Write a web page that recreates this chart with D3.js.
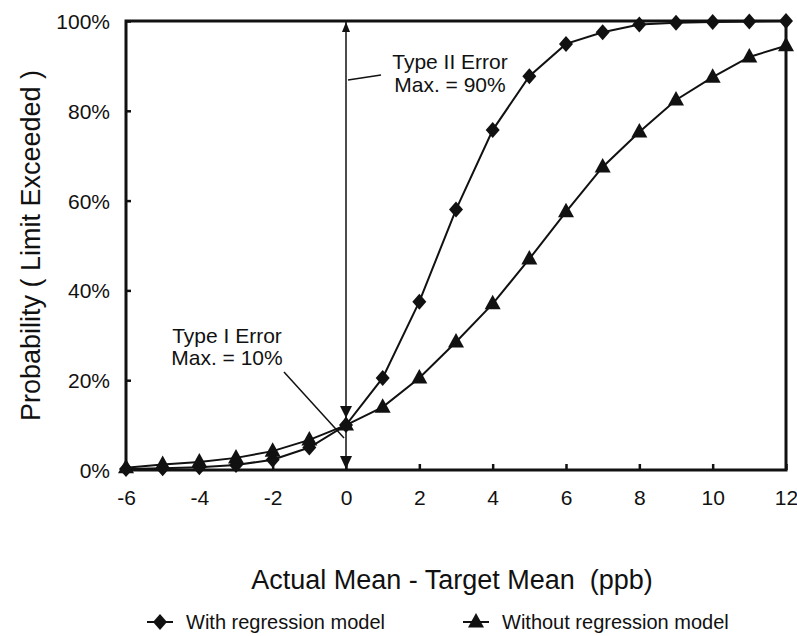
<!DOCTYPE html>
<html>
<head>
<meta charset="utf-8">
<script src="https://cdnjs.cloudflare.com/ajax/libs/d3/7.8.5/d3.min.js"></script>
<style>
  body { margin: 0; background: #fff; }
  text { font-family: "Liberation Sans", Arial, Helvetica, sans-serif; fill: #111; }
</style>
</head>
<body>
<div id="chart"></div>
<script>
// data
var xValues = [-6, -5, -4, -3, -2, -1, 0, 1, 2, 3, 4, 5, 6, 7, 8, 9, 10, 11, 12];
var withRegression = [0.2, 0.4, 0.6, 1.1, 2.3, 5, 10, 20.5, 37.5, 58, 75.7, 87.7, 94.9, 97.5, 99.2, 99.6, 99.8, 99.9, 100];
var withoutRegression = [0.5, 1.2, 1.8, 2.7, 4.2, 6.7, 10, 14, 20.5, 28.5, 37, 47, 57.5, 67.5, 75.3, 82.4, 87.5, 92, 94.5];
var xTicks = [-6, -4, -2, 0, 2, 4, 6, 8, 10, 12];
var yTicks = [0, 20, 40, 60, 80, 100];
var seriesNames = ["With regression model", "Without regression model"];

// svg container
var svgWidth = 797;
var svgHeight = 636;

// plot frame
var margin = { top: 21, right: 11, bottom: 166, left: 126 };
var width = svgWidth - margin.left - margin.right;
var height = svgHeight - margin.top - margin.bottom;

var svg = d3.select("#chart").append("svg")
  .attr("width", svgWidth)
  .attr("height", svgHeight);

var chartGroup = svg.append("g")
  .attr("transform", `translate(${margin.left}, ${margin.top})`);

var xScale = d3.scaleLinear().domain([-6, 12]).range([0, width]);
var yScale = d3.scaleLinear().domain([0, 100]).range([height, 0]);

// marker shapes
var diamond = "M0,-8L7,0L0,8L-7,0Z";
var triangle = "M0,-9L8,5.5L-8,5.5Z";

// axes with inward ticks
var xAxis = d3.axisBottom(xScale).tickValues(xTicks).tickSize(-6).tickFormat(d => d).tickPadding(20);
var yAxis = d3.axisLeft(yScale).tickValues(yTicks).tickSize(-5).tickFormat(d => d + "%").tickPadding(16);

var gx = chartGroup.append("g")
  .attr("transform", `translate(0, ${height})`)
  .call(xAxis);
var gy = chartGroup.append("g")
  .call(yAxis);

[gx, gy].forEach(function(g) {
  g.select(".domain").remove();
  g.selectAll("line").attr("stroke", "#111").attr("stroke-width", 2.5);
  g.selectAll("text")
    .attr("fill", "#111")
    .style("font-size", "21px")
    .style("font-family", "'Liberation Sans', Arial, sans-serif");
});
gy.selectAll("text").attr("dy", "0.36em");

// frame
chartGroup.append("rect")
  .attr("x", 0).attr("y", 0)
  .attr("width", width).attr("height", height)
  .attr("fill", "none")
  .attr("stroke", "#111")
  .attr("stroke-width", 3);

// annotation: vertical line at x = 0 with arrow heads
var x0 = xScale(0);
chartGroup.append("line")
  .attr("x1", x0).attr("x2", x0)
  .attr("y1", yScale(100)).attr("y2", yScale(0))
  .attr("stroke", "#111").attr("stroke-width", 1.5);

// top arrow (up), arrow onto the 10% point (down), arrow onto 0% (down)
var arrows = [
  { tip: yScale(100) + 1, dir: -1, w: 4, h: 10 },
  { tip: yScale(10) - 7, dir: 1, w: 6, h: 12 },
  { tip: yScale(0) - 1, dir: 1, w: 6, h: 13 }
];
chartGroup.selectAll(".arrow")
  .data(arrows)
  .enter()
  .append("path")
  .attr("class", "arrow")
  .attr("d", d => `M${x0},${d.tip}L${x0 - d.w},${d.tip - d.dir * d.h}L${x0 + d.w},${d.tip - d.dir * d.h}Z`)
  .attr("fill", "#111");

// series lines
var line = d3.line()
  .x(d => xScale(d[0]))
  .y(d => yScale(d[1]));

var seriesData = [
  { name: seriesNames[0], shape: diamond, values: xValues.map((x, i) => [x, withRegression[i]]) },
  { name: seriesNames[1], shape: triangle, values: xValues.map((x, i) => [x, withoutRegression[i]]) }
];

seriesData.forEach(function(s) {
  chartGroup.append("path")
    .datum(s.values)
    .attr("d", line)
    .attr("fill", "none")
    .attr("stroke", "#111")
    .attr("stroke-width", 2);

  chartGroup.append("g").selectAll("path")
    .data(s.values)
    .enter()
    .append("path")
    .attr("d", s.shape)
    .attr("transform", d => `translate(${xScale(d[0])}, ${yScale(d[1])})`)
    .attr("fill", "#111");
});

// annotation labels
chartGroup.append("line")
  .attr("x1", x0 + 2).attr("y1", 59)
  .attr("x2", x0 + 35).attr("y2", 54)
  .attr("stroke", "#111").attr("stroke-width", 1.5);
var t2 = chartGroup.append("text")
  .attr("text-anchor", "middle")
  .style("font-size", "21px");
t2.append("tspan").attr("x", x0 + 104).attr("y", 48).text("Type II Error");
t2.append("tspan").attr("x", x0 + 104).attr("y", 71).text("Max. = 90%");

chartGroup.append("line")
  .attr("x1", x0 - 62).attr("y1", 351)
  .attr("x2", x0 - 2).attr("y2", 417)
  .attr("stroke", "#111").attr("stroke-width", 1.5);
var t1 = chartGroup.append("text")
  .attr("text-anchor", "middle")
  .style("font-size", "21px");
t1.append("tspan").attr("x", x0 - 119).attr("y", 322).text("Type I Error");
t1.append("tspan").attr("x", x0 - 119).attr("y", 344).text("Max. = 10%");

// axis titles
svg.append("text")
  .attr("transform", `translate(40, ${margin.top + height / 2}) rotate(-90)`)
  .attr("text-anchor", "middle")
  .style("font-size", "27px")
  .text("Probability ( Limit Exceeded )");

svg.append("text")
  .attr("x", 452)
  .attr("y", 589)
  .attr("text-anchor", "middle")
  .style("font-size", "27px")
  .attr("xml:space", "preserve")
  .text("Actual Mean - Target Mean  (ppb)");

// legend
var legendX = [160, 476];
var legend = svg.append("g").selectAll("g")
  .data(seriesData)
  .enter()
  .append("g")
  .attr("transform", (d, i) => `translate(${legendX[i]}, 622)`);

legend.append("line")
  .attr("x1", -13).attr("x2", 13)
  .attr("stroke", "#111").attr("stroke-width", 2);
legend.append("path")
  .attr("d", d => d.shape)
  .attr("fill", "#111");
legend.append("text")
  .attr("x", 26)
  .attr("y", 7)
  .style("font-size", "20px")
  .text(d => d.name);
</script>
</body>
</html>
